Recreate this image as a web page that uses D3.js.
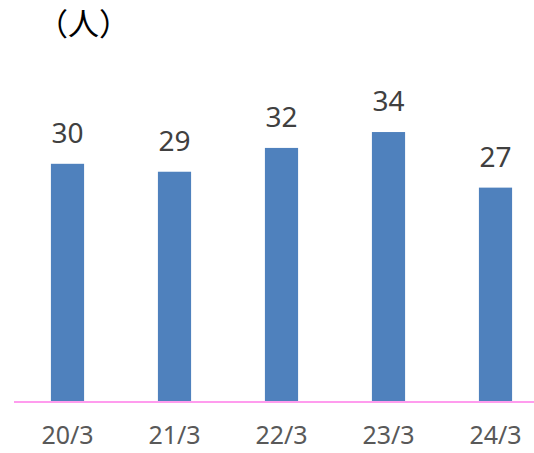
<!DOCTYPE html>
<html><head><meta charset="utf-8">
<script src="https://cdn.jsdelivr.net/npm/d3@7"></script>
<style>html,body{margin:0;padding:0;background:#fff;overflow:hidden}</style>
</head><body>
<svg id="c" width="534" height="453"></svg>
<script>
const categories = ["20/3","21/3","22/3","23/3","24/3"];
const values = [30,29,32,34,27];
const unitLabel = "（人）";

const svg = d3.select("#c");
const x = d3.scaleBand().domain(categories).range([14,549]).paddingInner(0.69).paddingOuter(0.345);
const y = d3.scaleLinear().domain([0,50]).range([402,5]);

svg.append("g").selectAll("rect").data(values).join("rect")
  .attr("x",(d,i)=>x(categories[i]))
  .attr("y",d=>y(d))
  .attr("width",x.bandwidth())
  .attr("height",d=>y(0)-y(d))
  .attr("fill","#4f81bd");

svg.append("g").selectAll("text").data(values).join("text")
  .attr("x",(d,i)=>x(categories[i])+x.bandwidth()/2)
  .attr("y",d=>y(d)-21)
  .attr("text-anchor","middle")
  .attr("font-family","'Noto Sans', sans-serif")
  .attr("font-size",28)
  .attr("fill","#404040")
  .text(d=>d);

const axis = d3.axisBottom(x).tickSize(0).tickPadding(24);
const g = svg.append("g").attr("transform","translate(0,402)").call(axis);
g.select(".domain").attr("stroke","#ff9cee").attr("stroke-width",2).attr("d","M14,0H534");
g.selectAll("text").attr("font-family","'Noto Sans', sans-serif").attr("font-size",25).attr("fill","#595959").attr("dy","0.71em");

svg.append("text").attr("x",37).attr("y",35)
  .attr("font-family","'Noto Sans CJK JP', sans-serif")
  .attr("font-size",31).attr("fill","#000").text(unitLabel);
</script>
</body></html>
